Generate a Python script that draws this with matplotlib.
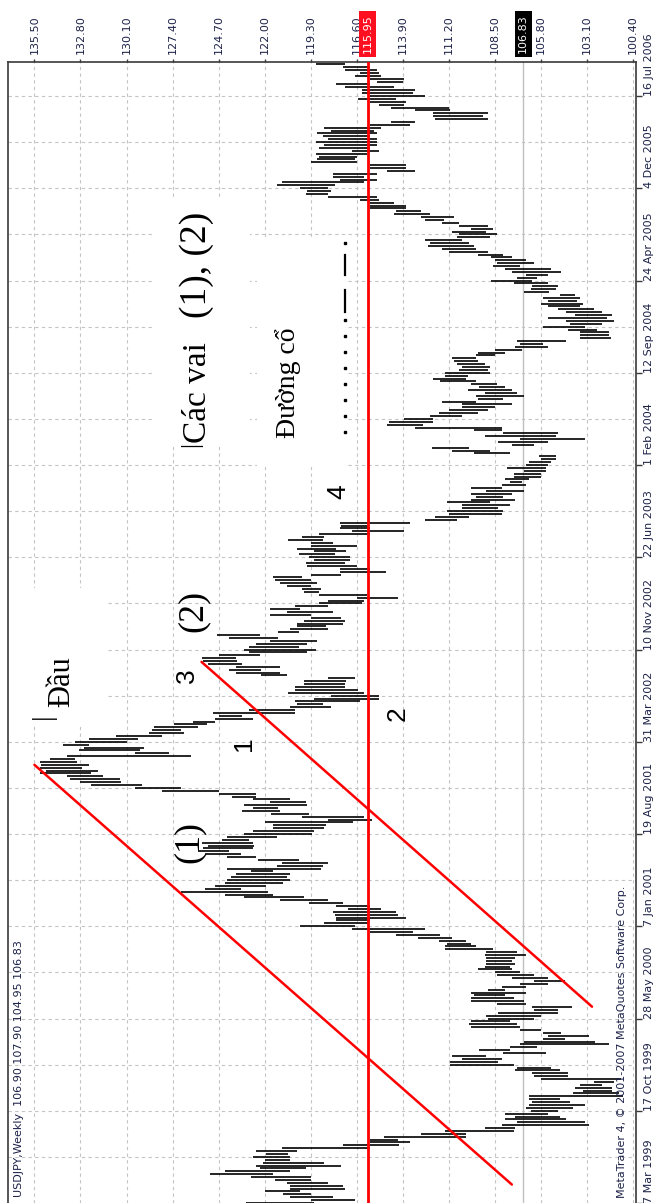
import matplotlib.pyplot as plt
from matplotlib.patches import Rectangle

# USDJPY weekly bar chart, shown turned on its side (price on top, time on the right)
price_ticks = [135.50, 132.80, 130.10, 127.40, 124.70, 122.00, 119.30,
               116.60, 113.90, 111.20, 108.50, 105.80, 103.10, 100.40]
date_weeks = [0, 32, 64, 96, 128, 160, 192, 224, 256, 288, 320, 352, 384]
date_labels = ['7 Mar 1999', '17 Oct 1999', '28 May 2000', '7 Jan 2001',
               '19 Aug 2001', '31 Mar 2002', '10 Nov 2002', '22 Jun 2003',
               '1 Feb 2004', '12 Sep 2004', '24 Apr 2005', '4 Dec 2005',
               '16 Jul 2006']

bar_low = [
    119.1, 116.7, 118.0, 119.3, 119.9, 117.3, 117.4, 118.3, 119.3, 119.3,
    121.5, 120.5, 119.6, 117.5, 118.5, 120.5, 120.5, 120.6, 120.1, 115.8,
    114.1, 113.5, 114.2, 110.2, 110.2, 107.4, 107.3, 103.0, 103.2, 104.3,
    104.7, 105.4, 104.8, 103.9, 103.2, 104.1, 104.7, 101.0, 101.2, 101.6,
    101.6, 102.2, 101.5, 101.1, 104.2, 104.2, 104.7, 105.2, 107.4, 108.3,
    108.1, 109.0, 105.5, 107.6, 106.0, 101.8, 102.6, 104.4, 103.0, 104.6,
    105.8, 107.0, 107.2, 107.6, 106.2, 105.8, 104.8, 104.8, 104.0, 106.7,
    106.8, 107.4, 107.9, 106.7, 107.9, 106.7, 105.4, 104.4, 105.4, 106.2,
    107.0, 107.5, 107.6, 107.3, 107.5, 107.3, 106.7, 107.2, 108.6, 109.6,
    109.9, 110.2, 111.0, 111.7, 113.3, 112.6, 116.7, 115.9, 115.8, 113.7,
    114.2, 114.3, 115.2, 115.8, 117.4, 118.3, 119.7, 121.5, 121.8, 123.4,
    121.9, 120.9, 120.5, 120.7, 120.5, 121.5, 118.7, 118.6, 118.3, 120.0,
    122.5, 123.4, 124.1, 122.7, 122.6, 122.7, 122.9, 121.3, 119.2, 119.1,
    118.5, 118.4, 116.8, 115.7, 116.2, 119.4, 121.1, 121.2, 119.5, 119.6,
    120.5, 122.5, 122.5, 124.7, 126.9, 129.2, 130.4, 130.5, 131.5, 132.2,
    131.8, 132.7, 132.3, 133.0, 133.1, 126.3, 127.6, 129.3, 129.1, 132.3,
    130.1, 129.4, 128.0, 126.7, 126.9, 125.9, 125.4, 124.9, 122.7, 123.3,
    120.2, 120.2, 118.1, 118.6, 116.4, 115.3, 115.3, 116.2, 116.5, 117.3,
    117.3, 117.2, 116.7, 120.7, 121.1, 122.2, 121.1, 123.3, 123.6, 123.7,
    122.3, 119.5, 119.0, 120.0, 119.5, 118.9, 121.2, 122.3, 120.0, 118.3,
    118.4, 117.4, 117.3, 117.5, 119.3, 118.0, 119.9, 118.3, 116.3, 116.2,
    114.2, 116.0, 118.8, 118.7, 119.3, 118.9, 119.3, 119.8, 117.5, 114.9,
    115.8, 116.6, 117.3, 117.0, 117.0, 117.9, 117.2, 117.8, 116.6, 118.0,
    118.6, 118.5, 115.8, 113.8, 115.8, 115.9, 113.5, 110.7, 110.0, 108.1,
    108.0, 108.3, 107.6, 108.8, 107.3, 108.0, 107.5, 106.8, 108.1, 106.7,
    106.9, 106.5, 105.8, 105.8, 105.5, 105.5, 105.4, 105.2, 104.9, 104.9,
    107.6, 108.8, 110.0, 106.2, 105.4, 103.2, 104.9, 104.8, 108.1, 108.1,
    112.7, 112.1, 112.1, 110.4, 109.5, 108.9, 108.5, 107.5, 109.6, 108.0,
    106.8, 107.2, 107.5, 107.9, 108.4, 109.6, 110.2, 110.1, 108.8, 108.9,
    108.8, 109.1, 109.5, 109.6, 108.5, 107.9, 106.9, 105.4, 105.7, 104.3,
    101.7, 101.8, 101.8, 102.5, 103.2, 102.2, 101.5, 101.9, 101.6, 102.2,
    102.7, 103.5, 103.3, 103.7, 103.5, 103.8, 105.3, 104.9, 104.8, 105.4,
    106.3, 106.0, 105.4, 104.6, 105.2, 107.0, 106.2, 106.7, 107.5, 108.0,
    108.9, 109.6, 109.7, 110.0, 110.4, 108.8, 108.4, 109.0, 108.6, 108.9,
    110.6, 111.5, 110.9, 112.3, 112.8, 113.7, 113.7, 114.4, 115.3, 115.4,
    118.3, 118.1, 118.3, 117.9, 116.2, 115.4, 116.2, 115.4, 113.2, 113.7,
    113.7, 116.6, 116.7, 116.6, 116.0, 115.3, 115.8, 115.4, 115.4, 115.4,
    115.8, 115.4, 115.6, 115.2, 113.5, 113.2, 108.9, 109.2, 108.9, 111.1,
    111.2, 113.8, 113.7, 114.3, 112.6, 113.3, 113.2, 114.4, 115.8, 113.9,
    113.8, 115.2, 115.3, 115.4, 115.8, 117.3]

bar_high = [
    123.1, 119.3, 120.5, 120.9, 122.0, 120.5, 120.5, 120.7, 121.4, 122.8,
    125.2, 124.3, 122.3, 122.5, 122.1, 122.0, 122.7, 121.9, 122.5, 121.0,
    117.4, 115.8, 115.8, 115.0, 112.8, 111.4, 109.1, 108.1, 107.2, 107.9,
    107.3, 107.9, 106.4, 106.7, 106.5, 106.3, 106.5, 106.5, 103.9, 103.3,
    103.8, 103.5, 102.7, 105.8, 106.2, 106.3, 107.3, 107.2, 111.1, 111.1,
    110.4, 111.0, 108.0, 109.4, 107.6, 107.0, 106.8, 105.7, 105.4, 105.7,
    107.0, 109.9, 110.0, 109.9, 108.9, 109.0, 108.3, 106.2, 106.3, 108.4,
    109.9, 109.9, 109.7, 109.9, 108.9, 108.1, 107.0, 106.2, 107.5, 108.4,
    108.5, 109.5, 109.1, 109.0, 109.0, 109.0, 109.1, 109.0, 111.4, 111.4,
    111.3, 111.8, 113.0, 114.3, 115.8, 116.9, 119.9, 118.5, 117.8, 117.8,
    117.9, 118.0, 117.1, 117.8, 119.4, 121.1, 123.2, 124.3, 126.9, 125.5,
    124.9, 124.3, 124.2, 124.0, 123.7, 122.8, 124.2, 121.3, 121.0, 122.4,
    124.2, 125.5, 125.9, 125.6, 125.3, 125.7, 124.5, 124.2, 123.2, 122.7,
    121.5, 121.5, 122.0, 118.3, 119.8, 121.6, 123.3, 122.7, 123.2, 121.7,
    122.7, 123.9, 124.7, 128.0, 129.6, 132.2, 132.8, 133.4, 133.6, 135.2,
    134.8, 135.2, 135.1, 135.2, 134.6, 133.6, 129.6, 132.9, 132.6, 133.8,
    133.1, 132.3, 130.7, 128.8, 128.6, 128.5, 127.3, 126.2, 124.9, 124.7,
    125.0, 122.9, 120.5, 120.1, 120.2, 119.1, 118.1, 120.6, 120.2, 120.2,
    119.7, 119.7, 118.3, 122.2, 123.7, 124.1, 123.7, 125.3, 125.6, 125.7,
    124.7, 122.9, 123.2, 122.9, 122.5, 121.7, 124.1, 124.8, 121.2, 120.5,
    120.1, 120.1, 119.7, 119.3, 121.7, 120.7, 121.7, 120.2, 118.8, 118.3,
    116.6, 118.8, 119.7, 119.8, 120.7, 121.1, 121.4, 121.5, 119.3, 117.6,
    117.6, 119.5, 119.6, 119.1, 119.4, 120.0, 119.1, 120.1, 119.3, 119.3,
    120.6, 119.8, 118.8, 116.9, 117.6, 117.5, 117.6, 112.6, 112.0, 111.2,
    111.3, 110.4, 110.4, 111.3, 109.9, 109.6, 109.9, 109.0, 109.9, 108.1,
    107.6, 107.9, 107.4, 107.4, 106.8, 107.8, 106.7, 106.5, 105.8, 105.9,
    109.7, 111.0, 112.2, 107.5, 108.3, 107.0, 109.1, 108.0, 109.7, 113.2,
    114.8, 114.7, 113.8, 112.3, 111.8, 111.2, 110.4, 110.4, 111.6, 109.5,
    109.6, 109.1, 110.1, 109.4, 109.9, 111.7, 112.1, 111.4, 111.4, 110.6,
    110.4, 110.7, 110.9, 111.0, 109.6, 109.5, 108.5, 107.3, 107.0, 107.2,
    103.5, 103.5, 103.5, 104.2, 105.7, 104.1, 104.3, 105.4, 103.8, 104.3,
    104.8, 105.4, 105.8, 105.4, 105.7, 104.7, 106.8, 106.4, 106.3, 107.4,
    108.7, 107.2, 106.7, 107.5, 107.9, 108.6, 108.4, 108.5, 108.7, 109.5,
    111.2, 111.6, 112.4, 112.3, 112.6, 110.7, 110.6, 111.0, 109.9, 110.6,
    111.6, 112.6, 112.8, 114.4, 114.3, 115.8, 115.8, 115.8, 116.4, 118.3,
    119.6, 119.5, 119.9, 121.3, 121.0, 117.6, 118.0, 118.0, 114.8, 115.8,
    115.8, 119.3, 118.9, 118.8, 119.0, 116.9, 118.8, 118.5, 119.0, 118.3,
    118.6, 118.9, 118.1, 118.5, 115.8, 114.6, 112.0, 112.1, 112.1, 113.2,
    114.6, 115.3, 115.8, 116.5, 115.8, 116.3, 116.3, 117.3, 117.8, 115.4,
    115.8, 116.7, 116.4, 117.3, 117.4, 119.0]

neck_price = 115.95
bid_price = 106.83
# channel lines as (week, price) end points
chan_a_weeks = [152.0, 6.4]
chan_a_prices = [135.5, 107.5]
chan_b_weeks = [187.7, 68.1]
chan_b_prices = [125.7, 102.8]
# leftover dotted mark next to the neckline label
mark_price = 117.3
mark_dash_weeks = [(321.9, 329.0), (309.1, 316.7)]
mark_dot_weeks = [333.0, 306.3, 300.8, 295.2, 289.7, 284.1, 278.6, 273.0, 267.5]

W, H = 657, 1203
txt_col = '#1c2248'
grid_col = '#c4c4c4'

fig = plt.figure(figsize=(W / 100, H / 100), dpi=100)
ax = fig.add_axes([8 / W, 0, 628 / W, 1 - 62 / H])
ax.set_xlim(137.05, 100.22)
ax.set_ylim(0.1, 395.8)

for p in price_ticks:
    ax.axvline(p, color=grid_col, lw=0.8, ls=(0, (3, 3)), zorder=0)
for wk in range(16, 396, 16):
    ax.axhline(wk, color=grid_col, lw=0.8, ls=(0, (3, 3)), zorder=0)

ax.axvline(bid_price, color='#c0c0c0', lw=1.0, zorder=1)

# white boxes behind the hand-written notes (pixel box -> figure fraction)
def px_box(x0, y0, x1, y1):
    ax.add_patch(Rectangle((x0 / W, 1 - y1 / H), (x1 - x0) / W, (y1 - y0) / H,
                           transform=fig.transFigure, fc='white', ec='none',
                           zorder=1))

px_box(9, 588, 107, 725)
px_box(152, 200, 250, 447)
px_box(257, 237, 345, 467)

weeks = list(range(len(bar_low)))
ax.hlines(weeks, bar_low, bar_high, color='black', lw=1.2, zorder=3)

ax.axvline(neck_price, color='#ff0000', lw=2.0, zorder=4)
ax.plot(chan_a_prices, chan_a_weeks, color='#ff0000', lw=1.8, zorder=4,
        solid_capstyle='round')
ax.plot(chan_b_prices, chan_b_weeks, color='#ff0000', lw=1.8, zorder=4,
        solid_capstyle='round')

for w0, w1 in mark_dash_weeks:
    ax.plot([mark_price, mark_price], [w0, w1], color='black', lw=1.6, zorder=4)
ax.plot([mark_price] * len(mark_dot_weeks), mark_dot_weeks, 's', color='black',
        ms=1.6, zorder=4)

# axes look
for side in ['left', 'top', 'right']:
    ax.spines[side].set_color('#3a3a3a')
    ax.spines[side].set_linewidth(1.2)
ax.spines['bottom'].set_visible(False)

ax.xaxis.tick_top()
ax.set_xticks(price_ticks)
ax.set_xticklabels(['%.2f' % p for p in price_ticks], rotation=90,
                   fontsize=8, color=txt_col)
ax.tick_params(axis='x', length=2.5, width=1, pad=3, colors='#3a3a3a',
               labelcolor=txt_col)

ax.yaxis.tick_right()
ax.set_yticks(date_weeks)
ax.set_yticklabels(date_labels, rotation=90, va='bottom', ha='left',
                   fontsize=8, color=txt_col)
ax.tick_params(axis='y', length=4, width=1, pad=1.5, colors='#3a3a3a',
               labelcolor=txt_col)

# current price boxes on the price scale
ax.text(neck_price, 1 + 28 / (H - 62), '%.2f' % neck_price, transform=ax.get_xaxis_transform(),
        rotation=90, ha='center', va='center', fontsize=8, color='white', zorder=6,
        bbox=dict(boxstyle='square,pad=0.3', fc='#ff1020', ec='none'))
ax.text(bid_price, 1 + 28 / (H - 62), '%.2f' % bid_price, transform=ax.get_xaxis_transform(),
        rotation=90, ha='center', va='center', fontsize=8, color='white', zorder=6,
        bbox=dict(boxstyle='square,pad=0.3', fc='black', ec='none'))

fig.text(19 / W, 6 / H, 'USDJPY,Weekly  106.90 107.90 104.95 106.83', rotation=90,
         ha='center', va='bottom', fontsize=8, color=txt_col)
fig.text(622 / W, 5 / H, 'MetaTrader 4, \u00a9 2001-2007 MetaQuotes Software Corp.',
         rotation=90, ha='center', va='bottom', fontsize=8, color=txt_col)

serif = ['Liberation Serif', 'DejaVu Serif']
sans = ['Liberation Sans', 'DejaVu Sans']
ax.text(133.9, 180.8, 'Đầu', family=serif, fontsize=22, rotation=90,
        ha='center', va='center', zorder=5)
ax.text(135.0, 168.7, '|', family=serif, fontsize=20, rotation=90,
        ha='center', va='center', zorder=5)
ax.text(126.2, 205.4, '(2)', family=serif, fontsize=26, rotation=90,
        ha='center', va='center', zorder=5)
ax.text(126.4, 125.3, '(1)', family=serif, fontsize=26, rotation=90,
        ha='center', va='center', zorder=5)
ax.text(126.3, 263.0, '|', family=serif, fontsize=18, rotation=90,
        ha='center', va='center', zorder=5)
ax.text(125.9, 281.0, 'Các vai', family=serif, fontsize=24, rotation=90,
        ha='center', va='center', zorder=5)
ax.text(126.0, 325.3, '(1), (2)', family=serif, fontsize=27, rotation=90,
        ha='center', va='center', zorder=5)
ax.text(120.6, 284.5, 'Đường cổ', family=serif, fontsize=20, rotation=90,
        ha='center', va='center', zorder=5)
for label, p, wk in [('1', 123.2, 159.3), ('2', 114.2, 169.7),
                     ('3', 126.55, 182.8), ('4', 117.7, 246.6)]:
    ax.text(p, wk, label, family=sans, fontsize=19, rotation=90,
            ha='center', va='center', zorder=5)

fig.savefig('out.png', dpi=100)
